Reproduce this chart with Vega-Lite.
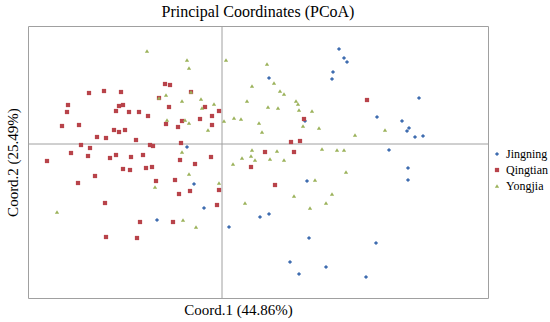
{
  "$schema": "https://vega.github.io/schema/vega-lite/v6.json",
  "autosize": {"type": "none"},
  "padding": {"left": 28, "top": 26, "right": 62, "bottom": 24},
  "width": 460,
  "height": 272,
  "background": "white",
  "title": {"text": "Principal Coordinates (PCoA)", "font": "Liberation Serif", "fontSize": 16, "fontWeight": "normal", "color": "#000", "anchor": "middle", "offset": 6},
  "config": {"view": {"stroke": "#a0a0a0", "strokeWidth": 1}, "legend": {"labelFont": "Liberation Serif", "labelFontSize": 12, "labelColor": "#000"}},
  "datasets": {
    "pts": [
      {"group": "Jingning", "x": -0.35, "y": -0.03},
      {"group": "Jingning", "x": 1.17, "y": 0.95},
      {"group": "Jingning", "x": 1.22, "y": 0.86},
      {"group": "Jingning", "x": 1.25, "y": 0.82},
      {"group": "Jingning", "x": 1.11, "y": 0.72},
      {"group": "Jingning", "x": 1.10, "y": 0.65},
      {"group": "Jingning", "x": 0.47, "y": 0.66},
      {"group": "Jingning", "x": 1.97, "y": 0.46},
      {"group": "Jingning", "x": 0.83, "y": 0.23},
      {"group": "Jingning", "x": 1.55, "y": 0.27},
      {"group": "Jingning", "x": 1.80, "y": 0.23},
      {"group": "Jingning", "x": 1.87, "y": 0.16},
      {"group": "Jingning", "x": 1.85, "y": 0.13},
      {"group": "Jingning", "x": 1.93, "y": 0.07},
      {"group": "Jingning", "x": 2.01, "y": 0.08},
      {"group": "Jingning", "x": 1.67, "y": -0.06},
      {"group": "Jingning", "x": 1.86, "y": -0.24},
      {"group": "Jingning", "x": 1.86, "y": -0.36},
      {"group": "Jingning", "x": 0.85, "y": -0.37},
      {"group": "Jingning", "x": 0.38, "y": -0.73},
      {"group": "Jingning", "x": 0.47, "y": -0.70},
      {"group": "Jingning", "x": 0.07, "y": -0.83},
      {"group": "Jingning", "x": 0.87, "y": -0.94},
      {"group": "Jingning", "x": 1.54, "y": -0.99},
      {"group": "Jingning", "x": 0.68, "y": -1.18},
      {"group": "Jingning", "x": 1.04, "y": -1.23},
      {"group": "Jingning", "x": 0.77, "y": -1.30},
      {"group": "Jingning", "x": 1.44, "y": -1.33},
      {"group": "Jingning", "x": -0.28, "y": -0.40},
      {"group": "Jingning", "x": -0.18, "y": -0.64},
      {"group": "Jingning", "x": -0.65, "y": -0.76},
      {"group": "Qingtian", "x": -0.57, "y": 0.60},
      {"group": "Qingtian", "x": -0.52, "y": 0.59},
      {"group": "Qingtian", "x": -1.33, "y": 0.51},
      {"group": "Qingtian", "x": -1.18, "y": 0.53},
      {"group": "Qingtian", "x": -1.01, "y": 0.52},
      {"group": "Qingtian", "x": -0.63, "y": 0.46},
      {"group": "Qingtian", "x": -0.31, "y": 0.52},
      {"group": "Qingtian", "x": -1.54, "y": 0.39},
      {"group": "Qingtian", "x": -1.55, "y": 0.32},
      {"group": "Qingtian", "x": -1.03, "y": 0.38},
      {"group": "Qingtian", "x": -0.99, "y": 0.39},
      {"group": "Qingtian", "x": -1.06, "y": 0.33},
      {"group": "Qingtian", "x": -0.93, "y": 0.32},
      {"group": "Qingtian", "x": -0.83, "y": 0.32},
      {"group": "Qingtian", "x": -0.74, "y": 0.28},
      {"group": "Qingtian", "x": -0.53, "y": 0.37},
      {"group": "Qingtian", "x": -0.17, "y": 0.37},
      {"group": "Qingtian", "x": -0.03, "y": 0.33},
      {"group": "Qingtian", "x": -0.10, "y": 0.28},
      {"group": "Qingtian", "x": -0.22, "y": 0.25},
      {"group": "Qingtian", "x": -0.40, "y": 0.23},
      {"group": "Qingtian", "x": -0.56, "y": 0.20},
      {"group": "Qingtian", "x": -0.44, "y": 0.17},
      {"group": "Qingtian", "x": -0.10, "y": 0.19},
      {"group": "Qingtian", "x": -1.60, "y": 0.18},
      {"group": "Qingtian", "x": -1.43, "y": 0.19},
      {"group": "Qingtian", "x": -1.08, "y": 0.14},
      {"group": "Qingtian", "x": -1.03, "y": 0.12},
      {"group": "Qingtian", "x": -0.97, "y": 0.14},
      {"group": "Qingtian", "x": -1.25, "y": 0.07},
      {"group": "Qingtian", "x": -1.16, "y": 0.06},
      {"group": "Qingtian", "x": -0.86, "y": 0.04},
      {"group": "Qingtian", "x": -0.41, "y": 0.01},
      {"group": "Qingtian", "x": -1.41, "y": -0.01},
      {"group": "Qingtian", "x": -0.72, "y": -0.01},
      {"group": "Qingtian", "x": -0.69, "y": -0.02},
      {"group": "Qingtian", "x": -1.32, "y": -0.04},
      {"group": "Qingtian", "x": -1.51, "y": -0.09},
      {"group": "Qingtian", "x": -1.34, "y": -0.12},
      {"group": "Qingtian", "x": -1.06, "y": -0.11},
      {"group": "Qingtian", "x": -1.12, "y": -0.14},
      {"group": "Qingtian", "x": -0.91, "y": -0.13},
      {"group": "Qingtian", "x": -0.79, "y": -0.11},
      {"group": "Qingtian", "x": -0.11, "y": -0.13},
      {"group": "Qingtian", "x": -1.75, "y": -0.17},
      {"group": "Qingtian", "x": -0.42, "y": -0.16},
      {"group": "Qingtian", "x": -0.27, "y": -0.20},
      {"group": "Qingtian", "x": -0.99, "y": -0.25},
      {"group": "Qingtian", "x": -0.92, "y": -0.26},
      {"group": "Qingtian", "x": -0.76, "y": -0.24},
      {"group": "Qingtian", "x": -0.70, "y": -0.23},
      {"group": "Qingtian", "x": -1.27, "y": -0.32},
      {"group": "Qingtian", "x": -1.44, "y": -0.39},
      {"group": "Qingtian", "x": -0.66, "y": -0.37},
      {"group": "Qingtian", "x": -0.47, "y": -0.36},
      {"group": "Qingtian", "x": -0.03, "y": -0.46},
      {"group": "Qingtian", "x": -0.32, "y": -0.47},
      {"group": "Qingtian", "x": -0.43, "y": -0.50},
      {"group": "Qingtian", "x": -1.17, "y": -0.59},
      {"group": "Qingtian", "x": -0.05, "y": -0.61},
      {"group": "Qingtian", "x": -0.82, "y": -0.78},
      {"group": "Qingtian", "x": -0.49, "y": -0.78},
      {"group": "Qingtian", "x": -1.16, "y": -0.93},
      {"group": "Qingtian", "x": -0.85, "y": -0.94},
      {"group": "Qingtian", "x": 1.45, "y": 0.44},
      {"group": "Qingtian", "x": 0.82, "y": 0.25},
      {"group": "Qingtian", "x": 0.69, "y": 0.02},
      {"group": "Qingtian", "x": 0.78, "y": 0.03},
      {"group": "Qingtian", "x": 0.43, "y": -0.08},
      {"group": "Qingtian", "x": 0.72, "y": -0.08},
      {"group": "Qingtian", "x": 0.29, "y": -0.23},
      {"group": "Qingtian", "x": 0.53, "y": -0.41},
      {"group": "Yongjia", "x": -0.75, "y": 0.93},
      {"group": "Yongjia", "x": -0.35, "y": 0.84},
      {"group": "Yongjia", "x": -0.33, "y": 0.76},
      {"group": "Yongjia", "x": -0.31, "y": 0.52},
      {"group": "Yongjia", "x": -0.63, "y": 0.46},
      {"group": "Yongjia", "x": -0.56, "y": 0.49},
      {"group": "Yongjia", "x": -0.40, "y": 0.43},
      {"group": "Yongjia", "x": -0.21, "y": 0.45},
      {"group": "Yongjia", "x": -0.08, "y": 0.40},
      {"group": "Yongjia", "x": -0.20, "y": 0.36},
      {"group": "Yongjia", "x": -0.55, "y": 0.24},
      {"group": "Yongjia", "x": -0.37, "y": 0.24},
      {"group": "Yongjia", "x": -0.33, "y": 0.21},
      {"group": "Yongjia", "x": -0.14, "y": 0.14},
      {"group": "Yongjia", "x": -0.40, "y": -0.08},
      {"group": "Yongjia", "x": -0.33, "y": -0.30},
      {"group": "Yongjia", "x": -0.67, "y": -0.43},
      {"group": "Yongjia", "x": -0.03, "y": -0.39},
      {"group": "Yongjia", "x": -1.65, "y": -0.68},
      {"group": "Yongjia", "x": -0.39, "y": -0.76},
      {"group": "Yongjia", "x": -0.26, "y": -0.83},
      {"group": "Yongjia", "x": 0.04, "y": 0.84},
      {"group": "Yongjia", "x": 0.45, "y": 0.80},
      {"group": "Yongjia", "x": 0.52, "y": 0.61},
      {"group": "Yongjia", "x": 0.30, "y": 0.58},
      {"group": "Yongjia", "x": 0.58, "y": 0.53},
      {"group": "Yongjia", "x": 0.62, "y": 0.50},
      {"group": "Yongjia", "x": 0.25, "y": 0.43},
      {"group": "Yongjia", "x": 0.74, "y": 0.43},
      {"group": "Yongjia", "x": 0.76, "y": 0.40},
      {"group": "Yongjia", "x": 0.46, "y": 0.37},
      {"group": "Yongjia", "x": 0.56, "y": 0.36},
      {"group": "Yongjia", "x": 0.77, "y": 0.34},
      {"group": "Yongjia", "x": 0.90, "y": 0.33},
      {"group": "Yongjia", "x": 0.02, "y": 0.23},
      {"group": "Yongjia", "x": 0.12, "y": 0.26},
      {"group": "Yongjia", "x": 0.19, "y": 0.25},
      {"group": "Yongjia", "x": 0.81, "y": 0.18},
      {"group": "Yongjia", "x": 0.37, "y": 0.21},
      {"group": "Yongjia", "x": 0.40, "y": 0.12},
      {"group": "Yongjia", "x": 0.97, "y": 0.16},
      {"group": "Yongjia", "x": 1.63, "y": 0.14},
      {"group": "Yongjia", "x": 1.33, "y": 0.09},
      {"group": "Yongjia", "x": 0.30, "y": -0.06},
      {"group": "Yongjia", "x": 0.55, "y": -0.07},
      {"group": "Yongjia", "x": 1.00, "y": -0.05},
      {"group": "Yongjia", "x": 1.15, "y": -0.06},
      {"group": "Yongjia", "x": 1.22, "y": -0.06},
      {"group": "Yongjia", "x": 0.20, "y": -0.14},
      {"group": "Yongjia", "x": 0.29, "y": -0.12},
      {"group": "Yongjia", "x": 0.33, "y": -0.16},
      {"group": "Yongjia", "x": 0.48, "y": -0.15},
      {"group": "Yongjia", "x": 0.62, "y": -0.16},
      {"group": "Yongjia", "x": 0.11, "y": -0.20},
      {"group": "Yongjia", "x": 1.24, "y": -0.28},
      {"group": "Yongjia", "x": 0.93, "y": -0.36},
      {"group": "Yongjia", "x": 0.72, "y": -0.52},
      {"group": "Yongjia", "x": 1.10, "y": -0.50},
      {"group": "Yongjia", "x": 0.23, "y": -0.59},
      {"group": "Yongjia", "x": 1.04, "y": -0.59},
      {"group": "Yongjia", "x": 0.88, "y": -0.64}
    ]
  },
  "layer": [
    {
      "data": {"values": [{"v": 0}]},
      "mark": {"type": "rule", "color": "#a0a0a0", "strokeWidth": 1},
      "encoding": {"x": {"field": "v", "type": "quantitative", "scale": {"domain": [-1.94, 2.66], "nice": false, "zero": false}}}
    },
    {
      "data": {"values": [{"v": 0}]},
      "mark": {"type": "rule", "color": "#a0a0a0", "strokeWidth": 1},
      "encoding": {"y": {"field": "v", "type": "quantitative", "scale": {"domain": [-1.54, 1.18], "nice": false, "zero": false}}}
    },
    {
      "data": {"name": "pts"},
      "mark": {"type": "point", "filled": true, "opacity": 1, "size": 18},
      "encoding": {
        "x": {"field": "x", "type": "quantitative", "scale": {"domain": [-1.94, 2.66], "nice": false, "zero": false},
              "axis": {"title": "Coord.1 (44.86%)", "labels": false, "ticks": false, "domain": false, "grid": false, "titleFont": "Liberation Serif", "titleFontSize": 15, "titleFontWeight": "normal", "titleColor": "#000", "titlePadding": 4, "titleX": 210}},
        "y": {"field": "y", "type": "quantitative", "scale": {"domain": [-1.54, 1.18], "nice": false, "zero": false},
              "axis": {"title": "Coord.2 (25.49%)", "labels": false, "ticks": false, "domain": false, "grid": false, "titleFont": "Liberation Serif", "titleFontSize": 15, "titleFontWeight": "normal", "titleColor": "#000", "titlePadding": 8}},
        "color": {"field": "group", "type": "nominal",
                  "scale": {"domain": ["Jingning", "Qingtian", "Yongjia"], "range": ["#3F6DB0", "#B8434A", "#9BB25A"]},
                  "legend": {"title": null, "orient": "none", "legendX": 463, "legendY": 122, "padding": 0, "labelFont": "Liberation Serif", "labelFontSize": 12, "labelColor": "#000", "symbolSize": 18, "labelOffset": 3, "rowPadding": 4}},
        "shape": {"field": "group", "type": "nominal",
                  "scale": {"domain": ["Jingning", "Qingtian", "Yongjia"], "range": ["diamond", "square", "triangle-up"]}}
      }
    }
  ]
}
